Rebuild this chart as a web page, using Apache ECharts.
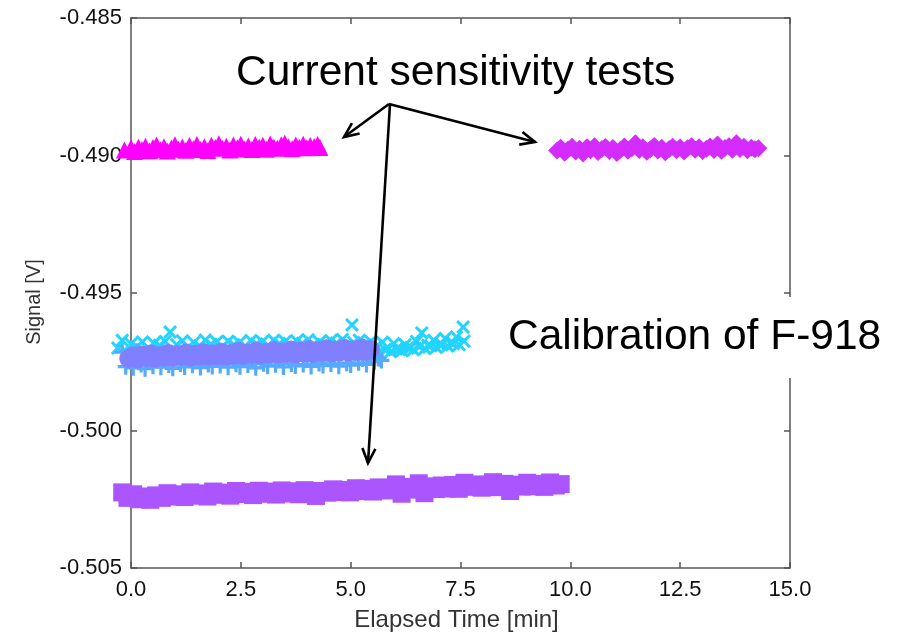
<!DOCTYPE html>
<html><head><meta charset="utf-8">
<script src="https://cdn.jsdelivr.net/npm/echarts@6/dist/echarts.min.js"></script>
<style>html,body{margin:0;padding:0;background:#fff}#c{width:901px;height:638px}</style>
</head><body><div id="c"></div>
<script>
// ---- data: [elapsed time (min), signal (V)] ----
const cyanX = [[-0.30,-0.49700],[-0.20,-0.49672],[-0.10,-0.49715],[0.00,-0.49685],[0.13,-0.49695],[0.26,-0.49678],[0.39,-0.49702],[0.52,-0.49683],[0.65,-0.49690],[0.78,-0.49676],[0.89,-0.49642],[1.04,-0.49688],[1.17,-0.49674],[1.30,-0.49697],[1.43,-0.49680],[1.56,-0.49692],[1.69,-0.49671],[1.82,-0.49686],[1.95,-0.49678],[2.08,-0.49695],[2.21,-0.49675],[2.34,-0.49688],[2.47,-0.49680],[2.60,-0.49693],[2.73,-0.49673],[2.86,-0.49685],[2.99,-0.49677],[3.12,-0.49690],[3.25,-0.49672],[3.38,-0.49684],[3.51,-0.49676],[3.64,-0.49692],[3.77,-0.49674],[3.90,-0.49683],[4.03,-0.49670],[4.16,-0.49687],[4.29,-0.49678],[4.42,-0.49691],[4.55,-0.49673],[4.68,-0.49682],[4.81,-0.49669],[5.03,-0.49616],[5.07,-0.49680],[5.20,-0.49672],[5.33,-0.49688],[5.46,-0.49676],[5.59,-0.49694],[5.72,-0.49679],[5.85,-0.49700],[5.98,-0.49684],[6.11,-0.49705],[6.24,-0.49688],[6.37,-0.49698],[6.50,-0.49676],[6.62,-0.49645],[6.76,-0.49690],[6.89,-0.49672],[7.02,-0.49686],[7.15,-0.49665],[7.28,-0.49680],[7.41,-0.49660],[7.56,-0.49624],[7.58,-0.49675],
  [5.52,-0.49712],[5.65,-0.49716],[5.78,-0.49706],[5.91,-0.49714],[6.04,-0.49704],[6.17,-0.49710],[6.30,-0.49700],[6.43,-0.49706],[6.56,-0.49696],[6.69,-0.49702],[6.82,-0.49692],[6.95,-0.49698],[7.08,-0.49688],[7.21,-0.49693],[7.34,-0.49684],[7.47,-0.49688]];
const blueP = [[-0.20,-0.49715],[-0.12,-0.49768],[-0.04,-0.49738],[0.05,-0.49772],[0.14,-0.49712],[0.23,-0.49760],[0.32,-0.49775],[0.41,-0.49720],[0.50,-0.49766],[0.59,-0.49745],[0.68,-0.49770],[0.77,-0.49716],[0.86,-0.49762],[0.95,-0.49774],[1.04,-0.49725],[1.13,-0.49758],[1.22,-0.49769],[1.31,-0.49714],[1.40,-0.49763],[1.49,-0.49748],[1.58,-0.49771],[1.67,-0.49718],[1.76,-0.49760],[1.85,-0.49767],[1.94,-0.49722],[2.03,-0.49764],[2.12,-0.49740],[2.21,-0.49770],[2.30,-0.49713],[2.39,-0.49759],[2.48,-0.49768],[2.57,-0.49720],[2.66,-0.49762],[2.75,-0.49743],[2.84,-0.49772],[2.93,-0.49715],[3.02,-0.49757],[3.11,-0.49766],[3.20,-0.49724],[3.29,-0.49761],[3.38,-0.49738],[3.47,-0.49769],[3.56,-0.49712],[3.65,-0.49758],[3.74,-0.49765],[3.83,-0.49719],[3.92,-0.49760],[4.01,-0.49742],[4.10,-0.49767],[4.19,-0.49714],[4.28,-0.49756],[4.37,-0.49764],[4.46,-0.49721],[4.55,-0.49758],[4.64,-0.49736],[4.73,-0.49766],[4.82,-0.49712],[4.91,-0.49755],[5.00,-0.49762],[5.09,-0.49718],[5.18,-0.49754],[5.27,-0.49740],[5.36,-0.49760],[5.45,-0.49725],[5.54,-0.49750],[5.63,-0.49738],[5.70,-0.49745]];
const periwinkleO = [[-0.05,-0.49738],[0.05,-0.49728],[0.15,-0.49740],[0.25,-0.49725],[0.35,-0.49735],[0.45,-0.49722],[0.55,-0.49737],[0.65,-0.49727],[0.75,-0.49733],[0.85,-0.49720],[0.95,-0.49734],[1.05,-0.49724],[1.15,-0.49731],[1.25,-0.49718],[1.35,-0.49733],[1.45,-0.49723],[1.55,-0.49729],[1.65,-0.49716],[1.75,-0.49730],[1.85,-0.49721],[1.95,-0.49728],[2.05,-0.49715],[2.15,-0.49729],[2.25,-0.49720],[2.35,-0.49726],[2.45,-0.49713],[2.55,-0.49727],[2.65,-0.49718],[2.75,-0.49724],[2.85,-0.49711],[2.95,-0.49725],[3.05,-0.49716],[3.15,-0.49722],[3.25,-0.49709],[3.35,-0.49723],[3.45,-0.49714],[3.55,-0.49720],[3.65,-0.49707],[3.75,-0.49721],[3.85,-0.49712],[3.95,-0.49718],[4.05,-0.49705],[4.15,-0.49719],[4.25,-0.49710],[4.35,-0.49716],[4.45,-0.49703],[4.55,-0.49717],[4.65,-0.49708],[4.75,-0.49714],[4.85,-0.49701],[4.95,-0.49715],[5.05,-0.49706],[5.15,-0.49712],[5.25,-0.49700],[5.35,-0.49713],[5.45,-0.49705]];
const purpleSq = [[-0.20,-0.50225],[-0.08,-0.50245],[0.05,-0.50232],[0.18,-0.50250],[0.31,-0.50240],[0.44,-0.50252],[0.57,-0.50236],[0.70,-0.50245],[0.83,-0.50228],[0.96,-0.50240],[1.09,-0.50232],[1.22,-0.50242],[1.35,-0.50225],[1.48,-0.50237],[1.61,-0.50229],[1.74,-0.50240],[1.87,-0.50222],[2.00,-0.50234],[2.13,-0.50226],[2.26,-0.50237],[2.39,-0.50220],[2.52,-0.50231],[2.65,-0.50223],[2.78,-0.50235],[2.91,-0.50219],[3.04,-0.50230],[3.17,-0.50222],[3.30,-0.50233],[3.43,-0.50218],[3.56,-0.50229],[3.69,-0.50221],[3.82,-0.50232],[3.95,-0.50217],[4.08,-0.50228],[4.21,-0.50238],[4.34,-0.50220],[4.47,-0.50226],[4.60,-0.50214],[4.73,-0.50224],[4.86,-0.50216],[4.99,-0.50225],[5.12,-0.50210],[5.25,-0.50220],[5.38,-0.50212],[5.51,-0.50222],[5.64,-0.50207],[5.77,-0.50218],[5.90,-0.50210],[6.03,-0.50196],[6.16,-0.50230],[6.29,-0.50205],[6.42,-0.50215],[6.55,-0.50192],[6.68,-0.50228],[6.81,-0.50203],[6.94,-0.50213],[7.07,-0.50200],[7.20,-0.50211],[7.33,-0.50198],[7.46,-0.50212],[7.59,-0.50190],[7.72,-0.50205],[7.85,-0.50196],[7.98,-0.50208],[8.11,-0.50198],[8.24,-0.50188],[8.37,-0.50206],[8.50,-0.50194],[8.63,-0.50220],[8.76,-0.50197],[8.89,-0.50204],[9.02,-0.50190],[9.15,-0.50203],[9.28,-0.50194],[9.41,-0.50205],[9.54,-0.50189],[9.67,-0.50200],[9.78,-0.50195]];
const violetD = [[9.70,-0.48982],[9.78,-0.48972],[9.87,-0.48990],[9.95,-0.48978],[10.04,-0.48968],[10.12,-0.48985],[10.21,-0.48975],[10.29,-0.48993],[10.38,-0.48970],[10.46,-0.48981],[10.55,-0.48966],[10.63,-0.48987],[10.72,-0.48976],[10.80,-0.48969],[10.89,-0.48984],[10.97,-0.48973],[11.06,-0.48991],[11.14,-0.48979],[11.23,-0.48967],[11.31,-0.48983],[11.40,-0.48974],[11.48,-0.48955],[11.57,-0.48980],[11.65,-0.48970],[11.74,-0.48986],[11.82,-0.48977],[11.91,-0.48965],[11.99,-0.48982],[12.08,-0.48972],[12.16,-0.48988],[12.25,-0.48976],[12.33,-0.48968],[12.42,-0.48981],[12.50,-0.48971],[12.59,-0.48985],[12.67,-0.48974],[12.76,-0.48966],[12.84,-0.48979],[12.93,-0.48970],[13.01,-0.48984],[13.10,-0.48975],[13.18,-0.48967],[13.27,-0.48980],[13.35,-0.48960],[13.44,-0.48983],[13.52,-0.48973],[13.61,-0.48966],[13.69,-0.48979],[13.78,-0.48955],[13.86,-0.48976],[13.95,-0.48968],[14.03,-0.48981],[14.12,-0.48972],[14.20,-0.48977],[14.28,-0.48974]];
const magentaT = [[-0.15,-0.48980],[0.00,-0.48972],[0.08,-0.48985],[0.17,-0.48970],[0.25,-0.48978],[0.33,-0.48966],[0.42,-0.48983],[0.50,-0.48971],[0.58,-0.48962],[0.67,-0.48979],[0.75,-0.48968],[0.83,-0.48984],[0.92,-0.48973],[1.00,-0.48961],[1.08,-0.48977],[1.17,-0.48969],[1.25,-0.48981],[1.33,-0.48964],[1.42,-0.48975],[1.50,-0.48960],[1.58,-0.48978],[1.67,-0.48968],[1.75,-0.48982],[1.83,-0.48963],[1.92,-0.48971],[2.00,-0.48957],[2.08,-0.48974],[2.17,-0.48966],[2.25,-0.48980],[2.33,-0.48962],[2.42,-0.48972],[2.50,-0.48959],[2.58,-0.48976],[2.67,-0.48965],[2.75,-0.48978],[2.83,-0.48960],[2.92,-0.48970],[3.00,-0.48963],[3.08,-0.48977],[3.17,-0.48958],[3.25,-0.48969],[3.33,-0.48974],[3.42,-0.48961],[3.50,-0.48955],[3.58,-0.48968],[3.67,-0.48975],[3.75,-0.48962],[3.83,-0.48970],[3.92,-0.48959],[4.00,-0.48972],[4.08,-0.48964],[4.17,-0.48967],[4.25,-0.48960],[4.30,-0.48971]];
const xTicks = {min: 0, max: 15, interval: 2.5};
const yTicks = {min: -0.505, max: -0.485, interval: 0.005};

const FONT = '"Liberation Sans", Arial, Helvetica, sans-serif';
const X_PATH = 'path://M0,1.5L1.5,0L5,3.5L8.5,0L10,1.5L6.5,5L10,8.5L8.5,10L5,6.5L1.5,10L0,8.5L3.5,5Z';
const PLUS_PATH = 'path://M4,0H6V4H10V6H6V10H4V6H0V4H4Z';

const chart = echarts.init(document.getElementById('c'), null, {renderer: 'canvas'});
const axisLineStyle = {color: '#555', width: 1.5};

function arrow(x1, y1, x2, y2) {
  const a = Math.atan2(y2 - y1, x2 - x1), L = 16, s = Math.PI / 7.5;
  const st = {stroke: '#000', lineWidth: 2.6, fill: null};
  return [
    {type: 'polyline', z: 120, shape: {points: [[x1, y1], [x2, y2]]}, style: st},
    {type: 'polyline', z: 120, shape: {points: [
      [x2 - L * Math.cos(a - s), y2 - L * Math.sin(a - s)], [x2, y2],
      [x2 - L * Math.cos(a + s), y2 - L * Math.sin(a + s)]]}, style: st}
  ];
}

function sc(data, color, symbol, size, extra) {
  return Object.assign({
    type: 'scatter', data: data, symbol: symbol, symbolSize: size, clip: false,
    itemStyle: {color: color, opacity: 1}, emphasis: {disabled: true}, animation: false
  }, extra || {});
}

const option = {
  backgroundColor: '#fff',
  animation: false,
  grid: {left: 131, right: 111, top: 18, bottom: 70},
  xAxis: [
    {type: 'value', min: xTicks.min, max: xTicks.max, interval: xTicks.interval, position: 'bottom',
     axisLine: {show: true, onZero: false, lineStyle: axisLineStyle},
     axisTick: {show: true, inside: true, length: 6, lineStyle: axisLineStyle},
     axisLabel: {formatter: v => v.toFixed(1), fontSize: 22, color: '#111', margin: 11, fontFamily: FONT},
     splitLine: {show: false},
     name: 'Elapsed Time [min]', nameLocation: 'middle', nameGap: 40,
     nameTextStyle: {fontSize: 24, color: '#333', fontFamily: FONT, padding: [0, 8, 0, 0]}},
    {type: 'value', min: xTicks.min, max: xTicks.max, interval: xTicks.interval, position: 'top',
     axisLine: {show: true, onZero: false, lineStyle: axisLineStyle},
     axisTick: {show: true, inside: true, length: 6, lineStyle: axisLineStyle},
     axisLabel: {show: false}, splitLine: {show: false}}
  ],
  yAxis: [
    {type: 'value', min: yTicks.min, max: yTicks.max, interval: yTicks.interval, position: 'left',
     axisLine: {show: true, onZero: false, lineStyle: axisLineStyle},
     axisTick: {show: true, inside: true, length: 6, lineStyle: axisLineStyle},
     axisLabel: {formatter: v => v.toFixed(3), fontSize: 22, color: '#111', margin: 9, fontFamily: FONT},
     splitLine: {show: false},
     name: 'Signal [V]', nameLocation: 'middle', nameGap: 87,
     nameTextStyle: {fontSize: 20, color: '#333', fontFamily: FONT, padding: [0, 18, 0, 0]}},
    {type: 'value', min: yTicks.min, max: yTicks.max, interval: yTicks.interval, position: 'right',
     axisLine: {show: true, onZero: false, lineStyle: axisLineStyle},
     axisTick: {show: true, inside: true, length: 6, lineStyle: axisLineStyle},
     axisLabel: {show: false}, splitLine: {show: false}}
  ],
  series: [
    sc(cyanX, '#22d4ff', X_PATH, 14),
    sc(blueP, '#55aaff', PLUS_PATH, 16),
    sc(periwinkleO, '#8080ff', 'circle', 19),
    sc(purpleSq, '#aa55ff', 'rect', 18),
    sc(violetD, '#d42bff', 'diamond', 18),
    sc(magentaT, '#ff00ff', 'triangle', 17)
  ],
  graphic: [
    {type: 'rect', z: 110, shape: {x: 497, y: 297, width: 396, height: 81}, style: {fill: '#fff'}},
    {type: 'text', z: 121, x: 236, y: 73, style: {text: 'Current sensitivity tests', font: '42.5px ' + FONT, fill: '#000', textVerticalAlign: 'middle', verticalAlign: 'middle'}},
    {type: 'text', z: 121, x: 508, y: 337, style: {text: 'Calibration of F-918', font: '42.5px ' + FONT, fill: '#000', textVerticalAlign: 'middle', verticalAlign: 'middle'}}
  ].concat(arrow(389, 104, 344, 137), arrow(389, 104, 535, 142), arrow(390, 104, 368, 463))
};
chart.setOption(option);
</script></body></html>
